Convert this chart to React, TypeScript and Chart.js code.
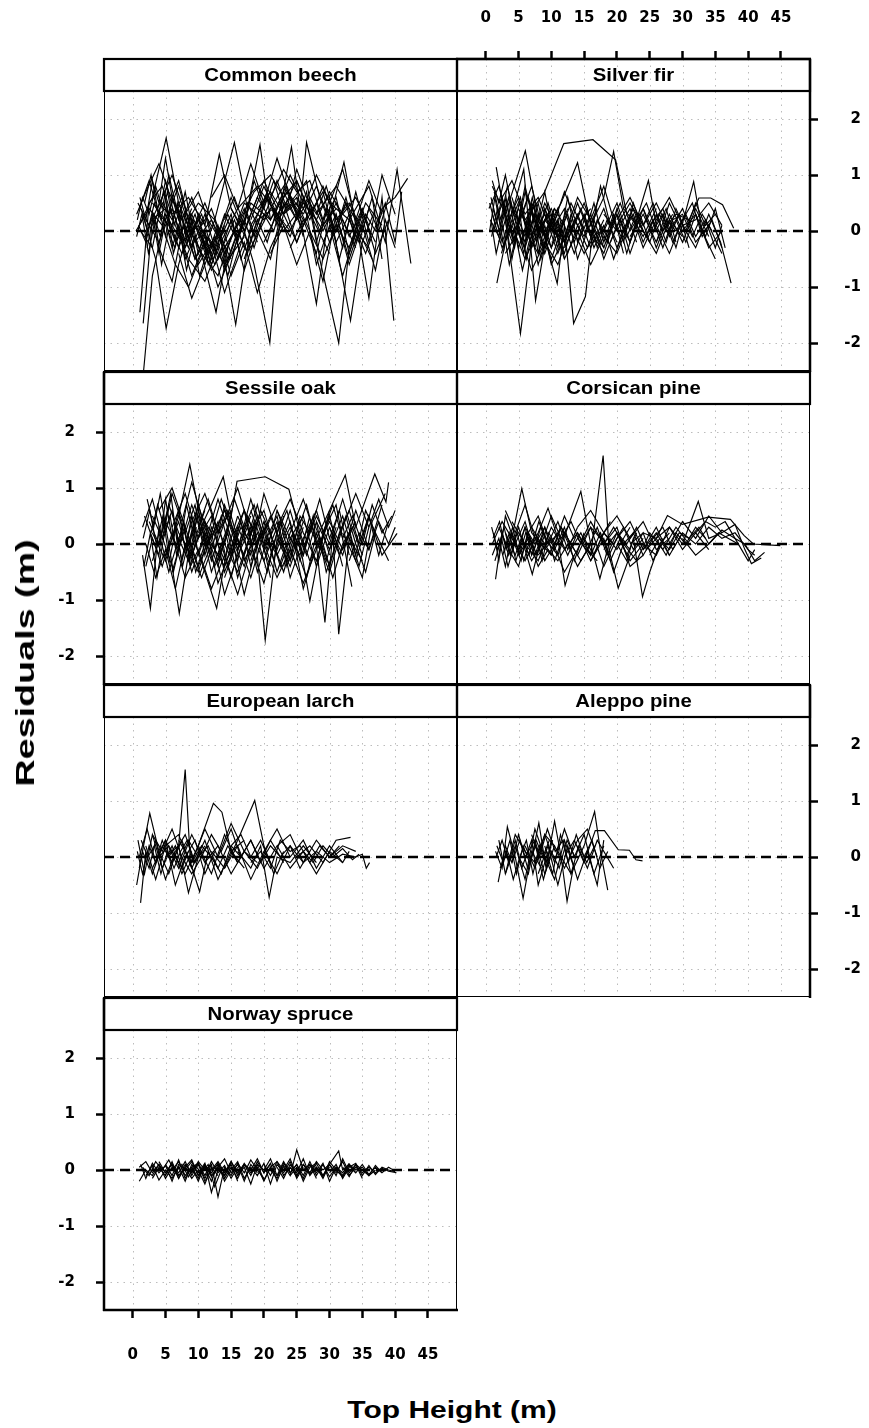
import React, { useEffect, useRef } from "react";
import { Chart, registerables } from "chart.js";

Chart.register(...registerables);

// ---------------- data ----------------
const X_TICKS = [0, 5, 10, 15, 20, 25, 30, 35, 40, 45];
const Y_TICKS = [-2, -1, 0, 1, 2];
const X_RANGE = [-4.375, 49.43];
const Y_RANGE = [-2.5, 2.5];
const ZERO_LEVEL = 0;

const PANEL_TITLES = [
  "Common beech",
  "Silver fir",
  "Sessile oak",
  "Corsican pine",
  "European larch",
  "Aleppo pine",
  "Norway spruce",
];
const X_TITLE = "Top Height (m)";
const Y_TITLE = "Residuals (m)";

// each line: flat list of (top height, residual) pairs
const beechLines: number[][] = [
  [1.5, -2.7, 3.0, -0.8, 5.0, 0.3, 7.5, -0.2, 10, 0.1, 13, -0.4],
  [1.0, 0.1, 3.0, 0.6, 5.1, 1.66, 7.0, 0.5, 9.5, -0.2, 12, 0.2, 15, -0.5],
  [1.5, 0.3, 3.5, -0.5, 5.1, -1.74, 7, -0.6, 9, 0.2, 11.5, -0.3],
  [1.1, -1.45, 2.5, 0.5, 4.5, 0.8, 6.5, 0.1, 8.5, -0.5, 11, -0.9, 13, -0.3, 16, 0.4, 19, 0.8, 22, 0.3],
  [1.6, -1.65, 3, 0.2, 5, 0.4, 7, -0.3, 9, 0.3, 12, -0.6, 14, 0.1],
  [8, 0.2, 10.5, -0.4, 12.7, -1.45, 14.5, -0.3, 17, 0.5, 20, 0.2, 23, 0.8, 26, 0.3],
  [11, 0.3, 13.5, -0.2, 15.7, -1.67, 18, 0.1, 20.5, 0.6, 23, 0.0, 25.5, 0.4],
  [14, -0.3, 16.5, 0.2, 18.5, -0.6, 20.9, -2.0, 22.5, 0.3, 25, 0.9, 27.5, 0.2, 30, -0.4],
  [24, 0.5, 26.5, 0.9, 28.5, -0.5, 31.4, -2.0, 33, -0.3, 35.5, 0.5, 38, 0.1],
  [22, 0.2, 25, 0.6, 28, -1.3, 30, 0.4, 33.2, -1.6, 35, -0.2, 37, 0.4],
  [28, 0.3, 31, 0.8, 34, 0.2, 36, -1.2, 38, 0.6, 39.8, -1.6],
  [30, 0.5, 33, 0.2, 36, 0.8, 38.5, -0.2, 40.3, 1.1, 42.4, -0.58],
  [33, 0.3, 35.5, -0.4, 38, 0.4, 40, 0.6, 41.9, 0.94],
  [10, 0.5, 12.5, 0.2, 15.5, 1.58, 17.5, 0.4, 19.4, 1.54, 21, 0.2, 23.5, 0.7, 26, 0.0],
  [18, 0.0, 20.5, 0.7, 22, 0.1, 24.2, 1.5, 25.5, 0.4, 26.5, 1.58, 28.5, 0.6, 30.5, 0.0, 32.5, 0.5],
  [26, 0.3, 28, 0.8, 30, 0.2, 32.2, 1.23, 34, 0.1, 36.5, -0.5],
  [6, 0.3, 8.5, 0.6, 11, 0.1, 13.2, 1.37, 15, 0.4, 18, -0.3, 21, 0.4],
  [0.5, 0.0, 2.5, 0.4, 4.5, 0.1, 6.5, -0.6, 8.5, -1.0, 10.5, -0.4, 13, -0.8, 15, -0.1],
  [0.6, 0.3, 2, 0.7, 4, 1.2, 5.5, 0.7, 7.5, 0.2, 9.5, -0.5, 11.5, -0.1, 14, -0.6, 17, -0.1],
  [1.2, 0.0, 3, -0.3, 5, 0.9, 7, 0.0, 9, -0.8, 11, -0.2, 13, -1.0, 15.5, -0.3, 18, 0.5, 21, 0.2],
  [16, 0.1, 18.5, 0.7, 21, 1.0, 23, 0.6, 25, 0.9, 27, 0.3, 29, 0.7, 31, -0.2, 33, 0.3],
  [17, -0.5, 19, 0.2, 21.5, 0.4, 24, -0.1, 26, 0.6, 28, -0.6, 30, 0.1, 32, -0.8, 34, 0.0, 36, -0.3],
  [19, 0.4, 21, 0.7, 23, 0.3, 25, 0.5, 27, 0.0, 29, -0.9, 31, 0.3, 33, -0.5, 35, 0.2],
  [2, 0.2, 4, -0.2, 6, 0.4, 8, -0.3, 10, 0.2, 12, -0.4, 14, 0.3, 16, -0.2, 18, 0.6],
  [3, 0.5, 5, 0.2, 7, 0.8, 9, 0.0, 11, 0.5, 13, -0.1, 15, 0.6, 17, 0.0, 20, 0.9, 22, 0.4, 24, 1.0, 26, 0.5],
  [7, -0.4, 9, -1.2, 11, -0.6, 13, 0.0, 15, -0.8, 17, -0.2, 19, -1.1, 21, -0.3, 23, 0.2],
  [21, 0.6, 23, 1.1, 25, 0.7, 27, 0.9, 29, 0.2, 31, 0.6, 33, -0.4, 35, 0.3, 37, -0.2],
  [0.8, 0.5, 2.5, 0.1, 4.5, 0.6, 6, 1.0, 8, 0.3, 10, 0.7, 12, 0.0],
  [4, -0.3, 6, -0.9, 8, 0.3, 10, -0.6, 12, -0.2, 14, -1.1, 16, -0.4, 18, 0.3],
  [24, -0.3, 26, 0.2, 28, -0.4, 30, 0.6, 32, -0.3, 34, 0.7, 36, -0.2, 38, 1.0, 40, 0.3],
  [12, 0.6, 14, 1.0, 16, 0.4, 18, 1.2, 20, 0.5, 22, 1.3, 24, 0.6, 26, 0.2],
  [1, 0.4, 2.5, 0.9, 4, 0.3, 5.5, 0.1, 7.5, -0.4, 9.5, 0.1, 12, -0.7, 14.5, -0.2],
  [26, 0.4, 28, 1.0, 30, 0.5, 32, 1.1, 34, 0.2, 36, 0.9, 38, 0.3],
  [9, -0.3, 11, 0.3, 13, -0.5, 15, 0.2, 17, -0.7, 19, 0.0, 21, -0.5, 23, 0.5, 25, -0.2, 27, 0.4],
  [0.7, 0.2, 1.5, 0.6, 2.5, 0.3, 3.5, 0.8, 4.5, 0.4, 5.5, 1.0, 6.5, 0.5, 7.5, 0.0, 9, 0.4],
  [0.9, 0.1, 2, -0.2, 3, 0.3, 4, -0.4, 5, 0.2, 6, -0.3, 7, 0.1, 8, -0.5, 9.5, -0.1, 11, -0.6],
  [1.3, 0.4, 2.3, 0.0, 3.3, 0.5, 4.3, 0.2, 5.3, 0.7, 6.3, 0.1, 7.3, 0.4, 8.3, -0.2, 9.3, 0.2],
  [2.2, -0.3, 3.2, 0.3, 4.2, -0.1, 5.2, 0.5, 6.2, -0.4, 7.2, 0.0, 8.2, -0.7, 9.2, -0.2, 10.2, -0.8, 11.5, -0.3],
  [5, 0.3, 6.5, -0.2, 8, 0.1, 9.5, -0.5, 11, -0.1, 12.5, -0.6, 14, -0.2, 15.5, 0.2, 17, -0.3],
  [8, -0.1, 9.5, 0.3, 11, -0.3, 12.5, 0.2, 14, -0.4, 15.5, 0.0, 17, 0.4, 18.5, -0.1, 20, 0.5],
  [13, -0.2, 14.5, 0.3, 16, -0.1, 17.5, 0.5, 19, 0.1, 20.5, 0.6, 22, 0.2, 23.5, 0.8, 25, 0.3],
  [15, 0.4, 17, 0.0, 19, 0.6, 21, 0.2, 23, 0.7, 25, 0.2, 27, 0.6, 29, 0.1, 31, 0.4],
  [18, 0.2, 20, 0.8, 22, 0.3, 24, 0.6, 26, 0.1, 28, 0.5, 30, -0.2, 32, 0.2, 34, -0.3],
  [20, -0.2, 22, 0.3, 24, 0.0, 26, 0.5, 28, 0.2, 30, 0.7, 32, 0.3, 34, 0.6, 36, 0.1],
  [23, 0.3, 25, -0.2, 27, 0.4, 29, 0.0, 31, 0.5, 33, -0.1, 35, 0.4, 37, -0.4, 39, 0.2],
  [25, 0.6, 27, 0.2, 29, 0.8, 31, 0.2, 33, 0.5, 35, 0.0, 36.5, 0.6, 38, -0.5],
  [29, -0.2, 31, 0.3, 33, -0.6, 35, 0.1, 37, -0.7, 38.5, 0.2, 40, -0.3],
  [3, 0.1, 4.5, 0.5, 6, 0.2, 7.5, 0.6, 9, 0.0, 10.5, 0.3, 12, -0.3, 13.5, 0.1, 15, -0.4],
  [10, 0.0, 11.5, -0.4, 13, 0.1, 14.5, -0.5, 16, 0.0, 17.5, -0.4, 19, 0.2, 20.5, -0.2, 22, 0.4],
  [1.1, 0.6, 2, 0.2, 3, 0.9, 4, 0.5, 5, 1.3, 6, 0.6, 7, 0.9, 8.5, 0.2, 10, 0.5],
  [6, 0.6, 7.5, 0.2, 9, 0.6, 10.5, 0.1, 12, 0.4, 13.5, -0.1, 15, 0.3, 16.5, -0.5, 18, 0.0],
  [21, -0.4, 23, 0.1, 25, -0.6, 27, 0.0, 29, -0.5, 31, 0.1, 33, -0.3, 35, 0.4],
  [0.6, -0.1, 1.4, 0.3, 2.4, -0.4, 3.4, 0.2, 4.4, -0.6, 5.4, 0.0, 6.4, -0.3, 7.4, 0.3, 8.4, -0.1],
  [1.8, 0.5, 2.8, 1.0, 3.8, 0.4, 4.8, 0.7, 5.8, 0.0, 6.8, 0.5, 7.8, -0.2, 8.8, 0.3, 10, -0.3],
  [4, 0.4, 5, -0.1, 6, 0.6, 7, 0.2, 8, 0.7, 9, 0.1, 10, -0.4, 11, 0.0, 12, -0.5, 13, -0.1],
  [11, -0.5, 12.5, -0.1, 14, -0.7, 15.5, -0.2, 17, 0.2, 18.5, -0.3, 20, 0.3, 21.5, 0.0, 23, 0.6],
  [14, 0.2, 15.5, 0.6, 17, 0.1, 18.5, 0.9, 20, 0.4, 21.5, 0.9, 23, 0.3, 24.5, 0.5, 26, -0.1],
  [19, 0.0, 20.5, 0.4, 22, 0.9, 23.5, 0.4, 25, 1.1, 26.5, 0.6, 28, 0.3, 29.5, 0.8, 31, 0.2],
  [22, -0.1, 23.5, 0.5, 25, 0.2, 26.5, 0.7, 28, -0.2, 29.5, 0.4, 31, 0.0, 32.5, 0.6, 34, -0.1],
  [27, 0.5, 28.5, 0.0, 30, 0.3, 31.5, -0.5, 33, 0.2, 34.5, -0.2, 36, 0.4, 37.5, 0.0, 39, 0.6],
  [31, 0.0, 32.5, 0.5, 34, -0.2, 35.5, 0.3, 37, 0.0, 38.5, 0.5, 40, -0.2, 41, 0.7],
  [7, 0.1, 8.5, -0.3, 10, 0.3, 11.5, -0.6, 13, -0.2, 14.5, -0.8, 16, -0.1, 17.5, 0.3, 19, -0.2],
];

const firLines: number[][] = [
  [6, 0.2, 9, 0.7, 11.9, 1.56, 16.35, 1.63, 19.8, 1.27, 21.5, 0.3, 23, -0.2],
  [1, 0.8, 3, 0.3, 6.04, 1.43, 8, 0.2, 10, -0.3, 12.5, 0.4],
  [1.6, 1.14, 3, 0.2, 5.3, -1.83, 7, -0.2, 9, 0.5, 11, 0.0],
  [0.8, 0.6, 2.5, -0.2, 4, 0.3, 5.8, 1.1, 7.6, -1.24, 9.5, 0.1, 12, -0.2],
  [8, 0.3, 10.9, -0.94, 12, 0.1, 13.4, -1.65, 15.2, -1.17, 16.5, 0.2, 18, -0.3],
  [9, 0.0, 11.5, 0.5, 14, 1.22, 16, 0.1, 18, 0.6, 19.5, 1.42, 21, 0.4, 23, 0.1],
  [18, 0.0, 20, 0.5, 22, -0.2, 24.8, 0.9, 26, 0.1, 28, -0.4, 30, 0.2],
  [25, 0.1, 27, 0.4, 29, -0.3, 31.7, 0.88, 33, 0.0, 35, -0.5],
  [27, 0.0, 29, 0.3, 31, 0.2, 32.5, 0.59, 34.3, 0.59, 36.1, 0.47, 37.8, 0.05],
  [30, 0.1, 32, -0.3, 34, 0.3, 35.8, -0.2, 37.4, -0.93],
  [1.7, -0.93, 3, -0.2, 5, 0.4, 7, -0.1, 9, 0.3, 11, -0.4, 13, 0.2],
  [0.5, 0.4, 2, 0.8, 3.5, 0.2, 5, 0.6, 7, -0.3, 9, 0.2, 11, -0.1, 13, 0.5, 15, 0.0],
  [1, 0.3, 2.5, -0.3, 4, 0.1, 6, -0.5, 8, 0.0, 10, 0.4, 12, -0.2, 14, 0.3, 16, -0.3, 18, 0.2],
  [2, 0.5, 4, 0.9, 6, 0.3, 8, 0.6, 10, 0.0, 12, 0.7, 14, 0.1, 16, 0.4],
  [3, -0.4, 5, 0.0, 7, -0.7, 9, -0.2, 11, -0.6, 13, 0.1, 15, -0.4, 17, 0.0],
  [10, 0.3, 12, -0.2, 14, 0.5, 16, -0.1, 18, 0.4, 20, -0.3, 22, 0.3, 24, -0.1, 26, 0.4],
  [14, -0.2, 16, 0.3, 18, -0.5, 20, 0.1, 22, 0.5, 24, 0.0, 26, -0.4, 28, 0.2, 30, -0.1],
  [20, 0.2, 22, 0.6, 24, 0.1, 26, 0.5, 28, 0.0, 30, 0.4, 32, -0.2, 34, 0.1, 36, -0.4],
  [16, 0.0, 18, -0.4, 20, 0.3, 22, -0.2, 24, 0.4, 26, -0.3, 28, 0.3, 30, -0.2, 32, 0.4, 34, -0.1],
  [1.2, 0.0, 2.5, 0.5, 4, -0.1, 5.5, 0.3, 7, 0.8, 8.5, 0.1, 10, -0.5, 11.5, 0.0],
  [4, 0.2, 6, -0.3, 8, 0.5, 10, -0.6, 12, -0.1, 14, 0.6, 16, 0.2, 18, 0.8, 20, 0.0],
  [22, -0.1, 24, 0.3, 26, -0.2, 28, 0.5, 30, 0.0, 32, 0.3, 34, -0.3, 36, 0.0],
  [0.7, 0.2, 2, -0.1, 3.5, 0.6, 5, -0.3, 6.5, 0.2, 8, -0.6, 9.5, 0.0, 11, 0.3],
  [6, 0.0, 8, -0.4, 10, 0.2, 12, -0.5, 14, 0.0, 16, -0.6, 18, -0.1, 20, -0.4, 22, 0.2],
  [18, 0.3, 20, 0.0, 22, 0.4, 24, -0.3, 26, 0.2, 28, 0.6, 30, 0.1, 32, 0.2, 34, 0.5, 36, 0.1],
  [0.6, 0.5, 1.5, 0.1, 2.5, 0.6, 3.5, 0.0, 4.5, 0.4, 5.5, -0.2, 6.5, 0.3, 7.5, -0.3, 8.5, 0.1],
  [0.9, -0.1, 1.8, 0.4, 2.8, -0.3, 3.8, 0.5, 4.8, 0.1, 5.8, -0.4, 6.8, 0.2, 7.8, -0.2, 9, 0.4, 10, 0.0],
  [1.3, 0.7, 2.3, 0.2, 3.3, 0.8, 4.3, 0.3, 5.3, 0.6, 6.3, 0.0, 7.3, 0.5, 8.3, -0.1, 9.3, 0.3],
  [2, -0.2, 3, 0.2, 4, -0.5, 5, 0.1, 6, -0.2, 7, 0.4, 8, -0.4, 9, 0.1, 10, -0.3, 11, 0.2, 12, -0.5],
  [5, 0.1, 6.5, 0.6, 8, 0.0, 9.5, 0.5, 11, -0.1, 12.5, 0.3, 14, -0.5, 15.5, 0.0, 17, 0.4],
  [8, -0.1, 9.5, 0.3, 11, -0.3, 12.5, 0.6, 14, -0.2, 15.5, 0.4, 17, -0.3, 18.5, 0.2, 20, -0.2],
  [11, 0.2, 12.5, -0.4, 14, 0.1, 15.5, -0.3, 17, 0.2, 18.5, -0.2, 20, 0.4, 21.5, -0.1, 23, 0.3],
  [13, 0.0, 14.5, 0.4, 16, -0.1, 17.5, 0.8, 19, 0.1, 20.5, 0.5, 22, 0.0, 23.5, 0.3, 25, -0.2],
  [19, -0.2, 20.5, 0.2, 22, -0.4, 23.5, 0.1, 25, -0.2, 26.5, 0.3, 28, -0.1, 29.5, 0.3, 31, -0.3],
  [23, 0.2, 24.5, -0.1, 26, 0.3, 27.5, -0.2, 29, 0.4, 30.5, 0.0, 32, 0.5, 33.5, 0.1, 35, 0.3],
  [26, -0.2, 27.5, 0.2, 29, 0.0, 30.5, 0.3, 32, -0.1, 33.5, 0.2, 35, -0.3, 36, 0.1],
  [3, 0.3, 4.5, -0.2, 6, 0.7, 7.5, 0.2, 9, -0.1, 10.5, 0.4, 12, 0.1, 13.5, -0.4, 15, 0.1],
  [0.8, 0.2, 1.6, -0.4, 2.6, 0.1, 3.6, -0.6, 4.6, -0.1, 5.6, -0.7, 6.6, -0.2, 7.6, 0.1, 9, -0.4],
  [15, 0.3, 16.5, -0.2, 18, 0.1, 19.5, -0.5, 21, 0.0, 22.5, 0.4, 24, 0.1, 25.5, 0.5, 27, 0.0, 28.5, 0.3],
  [1, 0.9, 2, 0.5, 3, 1.0, 4, 0.4, 5, 0.2, 6, 0.8, 7, 0.3, 8, 0.0],
  [29, 0.2, 30.5, -0.2, 32, 0.3, 33.5, -0.1, 35, 0.4, 36.5, -0.3],
  [0.6, 0.0, 1.4, 0.6, 2.2, 0.1, 3.2, 0.5, 4.2, -0.2, 5.2, 0.3, 6.2, -0.5, 7.2, 0.0, 8.2, 0.3],
  [1.1, 0.4, 2.1, 0.0, 3.1, 0.6, 4.1, -0.1, 5.1, 0.5, 6.1, 0.1, 7.1, 0.6, 8.1, 0.0, 9.1, -0.3, 10.1, 0.2],
  [2.4, -0.4, 3.4, 0.0, 4.4, -0.3, 5.4, 0.4, 6.4, -0.1, 7.4, 0.3, 8.4, -0.5, 9.4, -0.1, 10.4, 0.4],
  [6, -0.2, 7.5, 0.3, 9, -0.4, 10.5, 0.1, 12, 0.4, 13.5, -0.2, 15, 0.3, 16.5, -0.3, 18, 0.1],
  [9, 0.4, 10.5, 0.0, 12, -0.4, 13.5, 0.2, 15, -0.1, 16.5, 0.5, 18, -0.2, 19.5, 0.3, 21, -0.4],
  [12, -0.3, 13.5, 0.1, 15, 0.5, 16.5, 0.0, 18, -0.3, 19.5, 0.2, 21, -0.2, 22.5, 0.5, 24, 0.0],
  [17, 0.2, 18.5, -0.1, 20, 0.3, 21.5, -0.4, 23, 0.2, 24.5, 0.5, 26, 0.0, 27.5, 0.4, 29, -0.2],
  [21, 0.0, 22.5, 0.3, 24, -0.2, 25.5, 0.2, 27, -0.3, 28.5, 0.2, 30, 0.3, 31.5, -0.1, 33, 0.3, 34.5, 0.0],
  [24, 0.4, 25.5, 0.0, 27, 0.3, 28.5, -0.2, 30, 0.2, 31.5, 0.5, 33, -0.1, 34.5, 0.2, 36, -0.3],
  [4, 0.6, 5, 0.2, 6, -0.1, 7, 0.5, 8, 0.2, 9, 0.7, 10, 0.1, 11, 0.4, 12, -0.2, 13, 0.3],
];

const oakLines: number[][] = [
  [3, 0.2, 5, -0.3, 7, 0.5, 8.7, 1.42, 10.5, 0.3, 12.5, -0.4, 14.5, 0.2],
  [10, 0.2, 12, 0.7, 13.8, 1.2, 15, 0.5, 15.9, 1.12, 20.2, 1.2, 23.8, 0.98, 25.5, 0.2, 27, -0.3],
  [28, 0.1, 30, 0.6, 32.4, 1.23, 34, 0.3, 36.9, 1.25, 38.6, 0.75, 39, 1.1],
  [32, 0.2, 34, -0.3, 36, 0.5, 38, -0.2, 40.3, 0.19],
  [15, 0.3, 17, -0.2, 18.5, 0.4, 20.2, -1.72, 22, 0.1, 24, -0.4, 26, 0.3],
  [24, 0.3, 26, -0.2, 27.5, 0.5, 29.3, -1.4, 30.5, 0.2, 31.4, -1.61, 33, 0.1, 35, -0.3],
  [1.5, -0.2, 2.7, -1.15, 4, 0.3, 6, -0.4, 7.1, -1.24, 9, 0.2, 11, -0.5, 12.8, -1.15, 14.5, 0.0],
  [20, 0.4, 22, -0.1, 24, 0.6, 25.5, 0.0, 27, -1.02, 29, 0.2, 31, 0.7, 33.4, -0.76],
  [1.5, 0.3, 3, 0.8, 4.5, 0.1, 6, 0.6, 7.5, -0.3, 9, 0.4, 11, 0.9, 13, 0.2, 15, 0.6],
  [2, 0.0, 3.5, -0.6, 5, -0.1, 6.5, -0.8, 8, 0.0, 10, -0.5, 12, 0.3, 14, -0.3, 16, 0.5],
  [2.5, 0.4, 4, 0.0, 5.5, 0.7, 7, 0.2, 9, -0.2, 11, 0.4, 13, -0.7, 15, -0.1, 17, 0.6, 19, 0.1],
  [6, 0.3, 8, 0.9, 10, 0.1, 12, 0.5, 14, -0.5, 16, 0.1, 18, -0.6, 20, 0.2, 22, 0.7],
  [12, 0.1, 14, 0.6, 16, -0.1, 18, 0.8, 20, 0.0, 22, 0.5, 24, -0.6, 26, 0.1, 28, 0.6, 30, -0.2],
  [18, -0.3, 20, 0.4, 22, -0.5, 24, 0.2, 26, 0.8, 28, 0.1, 30, -0.5, 32, 0.3, 34, 0.9, 36, 0.3],
  [22, 0.6, 24, 0.1, 26, 0.5, 28, -0.4, 30, 0.3, 32, -0.2, 34, 0.6, 36, -0.1, 38, 0.7],
  [26, -0.1, 28, 0.5, 30, 0.0, 32, 0.8, 34, 0.0, 35.5, -0.5, 37, 0.2, 39, -0.3],
  [4, 0.6, 6, 1.0, 8, 0.3, 10, -0.4, 12, 0.2, 14, -0.9, 16, -0.2, 18, 0.3],
  [8, -0.2, 10, 0.5, 12, -0.3, 14, 0.4, 16, 1.0, 18, 0.2, 20, 0.6, 22, -0.2, 24, 0.3],
  [1.8, 0.5, 3, 0.1, 4.5, -0.4, 6, 0.2, 8, -0.6, 10, -0.1, 12, -0.8, 14, -0.2, 16, -0.9, 18, -0.1],
  [14, 0.0, 16, -0.5, 18, 0.2, 20, -0.3, 22, 0.3, 24, 0.8, 26, 0.2, 28, -0.3, 30, 0.5, 32, -0.4],
  [28, 0.4, 30, -0.1, 32, 0.5, 34, -0.3, 35, -0.6, 36.5, 0.4, 38.5, 0.9],
  [3, -0.3, 5, 0.4, 7, -0.1, 9, 0.7, 11, 0.0, 13, 0.8, 15, 0.1, 17, -0.4, 19, 0.4],
  [10, -0.6, 12, 0.0, 14, -0.4, 16, 0.3, 18, -0.2, 20, 0.9, 22, 0.2, 24, -0.3, 26, 0.4],
  [20, 0.0, 22, -0.6, 24, -0.1, 26, -0.7, 28, -0.1, 30, 0.4, 32, -0.1, 34, 0.4],
  [5, -0.2, 7, 0.4, 9, -0.5, 11, 0.2, 13, -0.2, 15, 0.5, 17, -0.3, 19, 0.2, 21, -0.4],
  [1.6, 0.1, 2.6, 0.6, 3.6, 0.0, 4.6, 0.5, 5.6, -0.3, 6.6, 0.3, 7.6, -0.4, 8.6, 0.1, 9.6, -0.5, 11, 0.0],
  [2, -0.4, 3, 0.1, 4, -0.2, 5, 0.8, 6, 0.1, 7, 0.6, 8, -0.1, 9, 0.5, 10, -0.2, 11.5, 0.3],
  [4, 0.2, 5.5, -0.5, 7, 0.1, 8.5, -0.3, 10, 0.6, 11.5, 0.0, 13, 0.4, 14.5, -0.4, 16, 0.2],
  [7, 0.5, 8.5, 0.0, 10, 0.7, 11.5, 0.1, 13, -0.4, 14.5, 0.3, 16, -0.3, 17.5, 0.5, 19, 0.0],
  [9, -0.1, 10.5, -0.6, 12, -0.1, 13.5, 0.5, 15, -0.2, 16.5, 0.4, 18, -0.4, 19.5, 0.2, 21, -0.6],
  [11, 0.4, 12.5, -0.1, 14, 0.7, 15.5, 0.2, 17, 0.6, 18.5, -0.2, 20, 0.3, 21.5, -0.3, 23, 0.5],
  [13, -0.3, 14.5, 0.2, 16, -0.6, 17.5, 0.0, 19, 0.5, 20.5, -0.1, 22, 0.6, 23.5, 0.1, 25, -0.4],
  [16, 0.5, 17.5, 0.1, 19, 0.7, 20.5, 0.0, 22, 0.4, 23.5, -0.4, 25, 0.2, 26.5, 0.7, 28, 0.0],
  [19, 0.1, 20.5, -0.5, 22, 0.2, 23.5, 0.6, 25, -0.1, 26.5, -0.6, 28, 0.2, 29.5, -0.3, 31, 0.3],
  [21, -0.2, 22.5, 0.4, 24, -0.3, 25.5, 0.5, 27, 0.2, 28.5, 0.8, 30, 0.1, 31.5, 0.6, 33, -0.2],
  [25, 0.3, 26.5, -0.2, 28, 0.4, 29.5, -0.5, 31, 0.0, 32.5, 0.5, 34, -0.2, 35.5, 0.6, 37, 0.2],
  [27, -0.3, 28.5, 0.1, 30, -0.4, 31.5, 0.2, 33, 0.6, 34.5, 0.0, 36, 0.5, 37.5, -0.2, 39, 0.4],
  [30, 0.3, 31.5, -0.2, 33, 0.2, 34.5, -0.4, 36, 0.3, 37.5, 0.8, 39, 0.3, 40, 0.6],
  [3, 0.5, 4.5, 0.1, 6, 0.9, 7.5, 0.4, 9, 1.1, 10.5, 0.5, 12, 0.2, 13.5, 0.8, 15, 0.3],
  [14, -0.6, 15.5, -0.1, 17, -0.9, 18.5, -0.2, 20, -0.7, 21.5, 0.0, 23, -0.5, 24.5, 0.1, 26, -0.8, 27.5, -0.2],
  [2.2, 0.8, 3.2, 0.3, 4.2, 0.9, 5.2, 0.2, 6.2, -0.5, 7.2, 0.0, 8.2, 0.7, 9.2, 0.2, 10.2, 0.9],
  [1.7, -0.4, 2.7, 0.2, 3.7, -0.6, 4.7, 0.1, 5.7, 0.5, 6.7, -0.2, 7.7, 0.4, 8.7, -0.3, 9.7, 0.3],
  [2.8, 0.2, 3.8, 0.7, 4.8, 0.3, 5.8, 0.9, 6.8, 0.0, 7.8, 0.4, 8.8, -0.4, 9.8, 0.2, 11, 0.6],
  [6, -0.5, 7.5, 0.1, 9, -0.2, 10.5, 0.3, 12, -0.5, 13.5, 0.0, 15, -0.6, 16.5, 0.1, 18, 0.5],
  [10, 0.3, 11.5, 0.8, 13, 0.2, 14.5, 0.6, 16, -0.1, 17.5, 0.3, 19, -0.5, 20.5, 0.1, 22, -0.2],
  [15, -0.2, 16.5, 0.3, 18, 0.0, 19.5, 0.6, 21, 0.2, 22.5, -0.4, 24, 0.1, 25.5, -0.2, 27, 0.5],
  [18, 0.6, 19.5, 0.1, 21, 0.5, 22.5, 0.0, 24, 0.4, 25.5, -0.3, 27, 0.3, 28.5, -0.1, 30, 0.6],
  [23, -0.4, 24.5, 0.2, 26, -0.2, 27.5, 0.4, 29, 0.0, 30.5, -0.6, 32, 0.0, 33.5, 0.3, 35, -0.2],
  [29, 0.2, 30.5, 0.7, 32, 0.1, 33.5, 0.5, 35, 0.0, 36.5, 0.7, 38, 0.2, 39.5, 0.5],
  [33, -0.3, 34.5, 0.2, 36, -0.1, 37.5, 0.4, 39, 0.0, 40, 0.3],
  [8, 0.2, 9.5, 0.7, 11, -0.2, 12.5, 0.4, 14, 0.0, 15.5, 0.8, 17, 0.3, 18.5, 0.7, 20, 0.1],
];

const corsicanLines: number[][] = [
  [14, 0.1, 16, -0.2, 17.9, 1.58, 18.8, -0.1, 20.2, -0.79, 22, -0.2, 24, 0.1],
  [1, 0.0, 2.5, 0.4, 4, 0.1, 5.5, 0.99, 7, 0.2, 9, -0.1, 11, 0.2],
  [9, 0.1, 11, -0.2, 12.5, 0.3, 14.5, 0.94, 16, 0.0, 17.4, -0.62, 19, 0.1],
  [4, 0.1, 6, -0.3, 8, 0.2, 9.5, 0.64, 11, 0.1, 12.1, -0.74, 13.5, -0.2],
  [26, 0.1, 28, 0.3, 30, 0.0, 32.4, 0.76, 34, 0.1, 36, 0.2],
  [22, 0.0, 24, 0.2, 26, 0.1, 27.7, 0.51, 30, 0.35, 33.9, 0.48, 37.3, 0.44, 39.4, 0.15, 40.8, 0.0, 44.9, -0.03],
  [20, 0.0, 21.5, -0.3, 22.5, 0.1, 23.9, -0.94, 25, -0.5, 26.5, 0.0, 28, 0.2],
  [1.5, -0.63, 2.5, 0.2, 3.5, -0.2, 5, 0.3, 6, -0.1, 7.1, -0.54, 8.5, 0.1, 10, -0.2],
  [1.2, 0.2, 2, -0.3, 3, 0.5, 4.5, 0.0, 6, 0.4, 7.5, -0.2, 9, 0.3, 10.5, -0.3, 12, 0.2],
  [2, 0.3, 3.5, -0.1, 5, -0.4, 6.5, 0.2, 8, 0.5, 9.5, 0.0, 11, 0.4, 12.5, -0.1, 14, 0.3],
  [6, 0.0, 8, -0.3, 10, 0.3, 12, -0.1, 14, 0.2, 16, -0.3, 18, 0.2, 20, -0.1, 22, 0.3],
  [12, 0.2, 14, -0.2, 16, 0.3, 18, -0.4, 20, 0.1, 22, 0.4, 24, -0.1, 26, 0.2, 28, -0.2],
  [18, -0.1, 20, 0.2, 22, -0.3, 24, 0.0, 26, -0.2, 28, 0.3, 30, -0.1, 32, 0.2, 34, -0.1],
  [24, -0.1, 26, 0.3, 28, -0.2, 30, 0.2, 32, 0.0, 34, 0.3, 36, 0.1, 38, 0.2, 40, -0.1, 41, -0.2],
  [28, 0.0, 30, 0.4, 32, 0.1, 34, 0.5, 36, 0.2, 38, 0.35, 39.5, -0.1, 40.5, -0.35, 42, -0.25],
  [3, 0.6, 4.5, 0.2, 6, 0.7, 7.5, 0.1, 9, -0.3, 10.5, 0.0, 12, 0.5, 13.5, 0.1],
  [8, -0.2, 10, 0.1, 12, -0.5, 14, -0.1, 16, 0.4, 18, 0.0, 20, 0.3, 22, -0.4, 24, -0.2],
  [1, -0.2, 2, 0.1, 3, -0.4, 4, 0.2, 5, -0.1, 6, 0.3, 7, -0.2, 8, 0.1, 9, -0.3],
  [14, 0.3, 16, 0.6, 18, 0.2, 20, 0.5, 22, 0.1, 24, 0.4, 26, -0.1, 28, 0.1],
  [30, 0.1, 32, -0.2, 34, 0.0, 36, 0.25, 38, 0.1, 39.5, 0.0, 41, -0.3, 42.5, -0.15],
  [16, -0.3, 18, 0.1, 19.5, -0.5, 21, 0.0, 23, -0.3, 25, 0.2, 27, -0.1, 29, 0.3, 31, 0.0],
  [0.9, 0.3, 1.8, -0.1, 2.8, 0.3, 3.8, -0.2, 4.8, 0.2, 5.8, -0.3, 6.8, 0.1, 7.8, -0.2, 8.8, 0.2],
  [1.4, -0.3, 2.4, 0.1, 3.4, -0.4, 4.4, 0.0, 5.4, -0.3, 6.4, 0.2, 7.4, -0.1, 8.4, 0.3, 9.4, 0.0],
  [3, 0.2, 4.5, -0.2, 6, 0.3, 7.5, 0.0, 9, 0.3, 10.5, -0.1, 12, 0.3, 13.5, -0.3, 15, 0.2],
  [10, 0.0, 11.5, 0.3, 13, -0.1, 14.5, 0.2, 16, -0.2, 17.5, 0.2, 19, -0.3, 20.5, 0.1, 22, -0.1],
  [15, 0.1, 16.5, -0.2, 18, 0.2, 19.5, 0.0, 21, 0.3, 22.5, -0.1, 24, 0.2, 25.5, -0.3, 27, 0.1],
  [20, 0.2, 21.5, 0.0, 23, 0.3, 24.5, -0.1, 26, 0.1, 27.5, -0.2, 29, 0.2, 30.5, 0.0, 32, 0.3, 33.5, 0.1],
  [25, -0.2, 26.5, 0.1, 28, -0.1, 29.5, 0.2, 31, 0.1, 32.5, 0.3, 34, 0.0, 35.5, 0.2, 37, 0.1, 38.5, 0.0],
  [5, -0.2, 6.5, 0.1, 8, -0.4, 9.5, -0.1, 11, -0.3, 12.5, 0.0, 14, -0.4, 15.5, -0.1, 17, -0.3],
  [7, 0.3, 8.5, 0.0, 10, 0.5, 11.5, 0.1, 13, 0.4, 14.5, 0.0, 16, 0.3, 17.5, 0.1, 19, 0.4],
  [32, 0.2, 33.5, 0.4, 35, 0.3, 36.5, 0.4, 38, 0.1, 39, -0.1, 40, -0.3, 41, -0.1],
  [1.1, 0.1, 2.1, 0.4, 3.1, -0.1, 4.1, 0.3, 5.1, -0.2, 6.1, 0.2, 7.1, 0.0, 8.1, 0.4, 9.1, 0.1],
  [2.6, -0.2, 3.6, 0.2, 4.6, -0.3, 5.6, 0.1, 6.6, -0.2, 7.6, 0.2, 8.6, -0.3, 9.6, 0.2, 10.6, 0.0],
  [11, 0.2, 12.5, -0.2, 14, 0.2, 15.5, -0.1, 17, 0.3, 18.5, -0.2, 20, 0.2, 21.5, -0.2, 23, 0.2],
  [18, 0.0, 19.5, 0.3, 21, 0.0, 22.5, 0.2, 24, -0.2, 25.5, 0.1, 27, 0.3, 28.5, -0.1, 30, 0.2],
  [4, 0.4, 5.5, 0.1, 7, -0.3, 8.5, 0.0, 10, -0.2, 11.5, 0.3, 13, 0.0, 14.5, -0.3, 16, 0.0],
];

const larchLines: number[][] = [
  [5, 0.0, 7, 0.2, 8.0, 1.56, 8.8, -0.1, 10.2, -0.62, 11.5, 0.1, 13, -0.2],
  [12, 0.1, 14, -0.2, 16, 0.3, 18.6, 1.01, 20, 0.2, 21.5, -0.3, 23, 0.1],
  [6, 0.1, 8, -0.3, 10, 0.2, 12.3, 0.96, 13.6, 0.8, 15, 0.1, 17, -0.2],
  [1, -0.2, 2.6, 0.78, 4, 0.1, 5.5, -0.3, 7, 0.2, 8.5, -0.64, 10, 0.0],
  [25, 0.0, 27, 0.2, 29, -0.1, 31, 0.3, 33.2, 0.35],
  [28, 0.1, 30, -0.1, 32, 0.05, 34, 0.0, 35, 0.05, 35.6, -0.2, 36.1, -0.1],
  [1.2, -0.82, 2, 0.1, 3, -0.3, 4.5, 0.2, 6, -0.1, 7.5, 0.3, 9, -0.2],
  [16, 0.1, 18, -0.2, 19.5, 0.2, 20.8, -0.72, 22, 0.0, 24, -0.1, 26, 0.2, 28, -0.1],
  [0.8, 0.3, 1.8, -0.3, 3, 0.4, 4, 0.0, 5, -0.4, 6.5, 0.1, 8, 0.4, 9.5, -0.1, 11, 0.2],
  [1, 0.0, 2.2, 0.5, 3.5, -0.1, 5, 0.3, 6.5, -0.5, 8, 0.0, 9.5, 0.3, 11, -0.3, 12.5, 0.1],
  [3, -0.2, 5, 0.3, 7, -0.2, 9, 0.4, 11, -0.1, 13, 0.2, 15, -0.3, 17, 0.1, 19, -0.1],
  [10, 0.2, 12, -0.3, 14, 0.4, 16, -0.1, 18, 0.3, 20, -0.2, 22, 0.2, 24, 0.4, 26, -0.1, 28, 0.1],
  [14, -0.2, 16, 0.2, 18, -0.4, 20, 0.1, 22, 0.5, 24, 0.0, 26, 0.3, 28, -0.2, 30, 0.2, 32, -0.1],
  [20, 0.1, 22, -0.3, 24, 0.2, 26, -0.1, 28, 0.3, 30, 0.0, 32, 0.2, 34, 0.1],
  [2, 0.2, 3.5, -0.4, 5, 0.2, 7, 0.4, 9, -0.2, 11, 0.3, 13, -0.4, 15, 0.1, 17, 0.3],
  [7, 0.3, 9, -0.1, 11, 0.5, 13, 0.0, 15, 0.6, 17, 0.1, 19, -0.2, 21, 0.3, 23, -0.1],
  [0.6, -0.5, 1.5, 0.1, 2.5, -0.2, 3.5, 0.3, 4.5, -0.2, 6, 0.2, 7.5, -0.3, 9, 0.1],
  [22, 0.2, 24, -0.2, 26, 0.1, 28, -0.3, 30, 0.1, 32, -0.1, 33, 0.1],
  [0.7, 0.1, 1.5, -0.3, 2.5, 0.2, 3.5, -0.1, 4.5, 0.3, 5.5, 0.0, 6.5, 0.2, 7.5, -0.2, 8.5, 0.1],
  [1.3, 0.3, 2.3, 0.0, 3.3, 0.2, 4.3, -0.3, 5.3, 0.1, 6.3, -0.2, 7.3, 0.1, 8.3, 0.3, 9.3, -0.1, 10.3, 0.1],
  [4, 0.0, 5.5, 0.2, 7, -0.1, 8.5, 0.3, 10, 0.0, 11.5, 0.2, 13, -0.2, 14.5, 0.2, 16, -0.1],
  [9, -0.1, 10.5, 0.2, 12, 0.0, 13.5, -0.3, 15, 0.2, 16.5, 0.4, 18, 0.0, 19.5, 0.3, 21, -0.1],
  [15, 0.2, 16.5, 0.0, 18, 0.3, 19.5, -0.1, 21, 0.2, 22.5, 0.0, 24, 0.2, 25.5, -0.2, 27, 0.1],
  [18, -0.1, 19.5, 0.1, 21, -0.2, 22.5, 0.3, 24, 0.1, 25.5, 0.2, 27, -0.1, 28.5, 0.2, 30, 0.0, 31.5, 0.2],
  [3, 0.4, 4.5, 0.1, 6, 0.5, 7.5, 0.0, 9, -0.3, 10.5, 0.0, 12, 0.4, 13.5, 0.1, 15, 0.5, 16.5, 0.0],
  [26, 0.1, 27.5, -0.1, 29, 0.2, 30.5, 0.0, 32, 0.15, 33.5, -0.05, 34.5, 0.05],
];

const aleppoLines: number[][] = [
  [11, 0.1, 13, -0.3, 15, 0.2, 16.6, 0.81, 17.5, 0.1, 18.6, -0.59],
  [5, 0.0, 6.5, -0.3, 8.1, 0.61, 9.2, -0.2, 10.5, 0.64, 11.5, 0.0, 12.4, -0.79, 13.5, -0.1],
  [1.5, 0.1, 2.5, -0.2, 3.3, 0.54, 4.5, 0.0, 5.7, -0.74, 7, 0.1, 8.5, -0.2],
  [12, 0.0, 13.5, 0.3, 15, -0.1, 16.7, 0.47, 18.1, 0.47, 20.2, 0.13, 21.9, 0.12, 22.9, -0.05, 23.9, -0.07],
  [1.9, -0.45, 3, 0.2, 4, -0.1, 5, 0.4, 6, 0.0, 7.5, 0.3, 9, -0.3, 10.5, 0.2],
  [2, 0.3, 3, -0.3, 4.5, 0.2, 6, -0.4, 7.5, 0.5, 9, 0.0, 10.5, -0.4, 12, 0.3, 13.5, -0.2],
  [6, 0.2, 7.5, -0.2, 9, 0.4, 10.5, -0.1, 12, 0.5, 13.5, 0.0, 15, 0.4, 16.5, -0.3, 18, 0.2],
  [1.6, 0.0, 2.5, 0.3, 3.5, -0.1, 4.5, 0.3, 5.5, -0.2, 7, 0.3, 8, -0.5, 9.5, 0.1],
  [8, -0.3, 9.5, 0.2, 11, -0.5, 12.5, 0.2, 14, -0.4, 15.5, 0.1, 17, -0.5, 18, 0.3],
  [3, -0.3, 4.5, 0.4, 6, 0.1, 7.5, -0.1, 9, 0.4, 10.5, 0.2, 12, -0.2, 14, 0.3, 15.5, 0.5, 17, 0.0],
  [14, 0.2, 15.5, -0.2, 17, 0.3, 18.5, 0.0, 19.5, -0.2],
  [1.7, 0.2, 2.7, -0.1, 3.7, 0.3, 4.7, -0.3, 5.7, 0.2, 6.7, -0.1, 7.7, 0.3, 8.7, 0.0, 9.7, 0.3],
  [4, -0.1, 5.2, 0.3, 6.4, -0.2, 7.6, 0.2, 8.8, -0.4, 10, 0.1, 11.2, -0.2, 12.4, 0.3, 13.6, 0.0],
  [9, 0.2, 10.2, -0.3, 11.4, 0.4, 12.6, -0.1, 13.8, 0.4, 15, 0.0, 16.2, 0.3, 17.4, -0.2, 18.6, 0.1],
  [2.2, -0.2, 3.2, 0.1, 4.2, -0.4, 5.2, 0.0, 6.2, 0.3, 7.2, -0.3, 8.2, 0.2, 9.2, -0.1, 10.2, 0.3],
  [7, 0.4, 8.2, 0.0, 9.4, 0.5, 10.6, 0.1, 11.8, 0.3, 13, -0.3, 14.2, 0.2, 15.4, -0.1, 16.6, 0.2],
];

const spruceLines: number[][] = [
  [1, -0.2, 2, 0.0, 3, -0.1, 4, 0.1, 5, -0.05, 6, 0.12, 7, -0.1, 8, 0.05, 9, -0.15, 10, 0.0, 11, -0.25, 12, 0.05, 13, -0.1],
  [1.5, 0.05, 2.5, -0.1, 3.5, 0.15, 4.5, 0.0, 5.5, 0.18, 6.5, -0.05, 7.5, 0.1, 8.5, -0.12, 9.5, 0.08, 10.5, -0.05, 11.5, 0.1, 12.5, -0.3, 13.5, 0.0],
  [2, -0.1, 3, 0.08, 4, -0.18, 5, 0.0, 6, -0.15, 7, 0.06, 8, -0.2, 9, 0.1, 10, -0.05, 11, 0.12, 12, -0.4, 13, 0.0, 14, -0.1, 15, 0.1, 16, -0.2],
  [8, 0.1, 9, -0.05, 10, 0.15, 11, 0.0, 12, 0.1, 13, -0.48, 14, 0.05, 15, -0.1, 16, 0.12, 17, -0.05, 18, 0.18, 19, 0.0, 20, -0.15],
  [10, -0.1, 11, 0.05, 12, -0.2, 13, 0.1, 14, -0.05, 15, 0.15, 16, -0.1, 17, 0.05, 18, -0.25, 19, 0.1, 20, 0.0, 21, 0.2, 22, -0.1, 23, 0.05],
  [15, 0.05, 16, -0.15, 17, 0.1, 18, 0.0, 19, 0.2, 20, -0.05, 21, 0.12, 22, -0.2, 23, 0.08, 24, -0.1, 25, 0.36, 26, 0.0, 27, 0.1, 28, -0.15],
  [18, -0.05, 19, 0.1, 20, -0.18, 21, 0.05, 22, -0.1, 23, 0.15, 24, -0.05, 25, 0.1, 26, -0.2, 27, 0.05, 28, 0.12, 29, -0.1, 30, 0.05],
  [20, 0.1, 21, -0.1, 22, 0.15, 23, 0.0, 24, 0.2, 25, -0.1, 26, 0.1, 27, -0.05, 28, 0.15, 29, 0.0, 30, 0.1, 31.4, 0.34, 32, 0.0, 33, 0.1, 34, -0.05],
  [24, -0.1, 25, 0.05, 26, -0.15, 27, 0.1, 28, -0.05, 29, 0.12, 30, -0.2, 31, 0.05, 32, -0.1, 33, 0.1, 34, 0.0, 35, 0.05, 36, -0.1, 37, 0.0],
  [28, 0.05, 29, -0.1, 30, 0.1, 31, -0.05, 32, 0.15, 33, -0.1, 34, 0.05, 35, -0.05, 36, 0.05, 37, -0.05, 38, 0.03, 39, -0.02, 40.2, -0.05],
  [4, 0.15, 5, -0.05, 6, 0.1, 7, -0.15, 8, 0.05, 9, 0.18, 10, -0.1, 11, 0.08, 12, -0.05, 13, 0.12, 14, -0.15, 15, 0.05, 16, -0.05, 17, 0.1],
  [12, 0.0, 13, 0.1, 14, -0.2, 15, 0.0, 16, 0.15, 17, -0.15, 18, 0.05, 19, -0.1, 20, 0.12, 21, -0.25, 22, 0.1, 23, -0.05, 24, 0.15, 25, -0.15, 26, 0.05],
  [1.2, 0.1, 2, -0.15, 3, 0.12, 4, -0.05, 5, 0.08, 6, -0.2, 7, 0.1, 8, 0.0, 9, 0.15, 10, -0.1, 11, 0.05],
  [30, -0.05, 31, 0.1, 32, -0.15, 33, 0.05, 34, 0.12, 35, -0.1, 36, 0.08, 37, -0.08, 38, 0.05, 39, 0.0, 40, -0.03],
  [22, 0.05, 23, -0.15, 24, 0.1, 25, -0.05, 26, 0.2, 27, -0.1, 28, 0.05, 29, -0.15, 30, 0.1, 31, -0.1, 32, 0.2, 33, -0.05, 34, 0.1, 35, -0.15],
  [6, 0.0, 7, 0.15, 8, -0.1, 9, 0.05, 10, -0.2, 11, 0.1, 12, -0.1, 13, 0.05, 14, 0.2, 15, -0.05, 16, 0.1, 17, -0.2, 18, 0.1, 19, -0.05],
  [1, 0.05, 2, 0.15, 3, -0.05, 4, 0.1, 5, -0.15, 6, 0.05, 7, -0.05, 8, 0.15, 9, -0.1, 10, 0.1, 11, -0.15, 12, 0.1],
  [3, -0.15, 4, 0.05, 5, -0.1, 6, 0.15, 7, -0.15, 8, 0.1, 9, -0.05, 10, 0.12, 11, -0.2, 12, 0.0, 13, 0.15, 14, -0.05, 15, 0.12],
  [9, 0.05, 10, -0.15, 11, 0.1, 12, -0.12, 13, 0.05, 14, -0.1, 15, 0.15, 16, -0.05, 17, 0.1, 18, -0.1, 19, 0.15, 20, -0.05, 21, 0.1],
  [16, -0.1, 17, 0.12, 18, -0.05, 19, 0.05, 20, -0.2, 21, 0.05, 22, 0.15, 23, -0.1, 24, 0.05, 25, -0.12, 26, 0.1, 27, -0.05, 28, 0.1],
  [21, 0.0, 22, -0.15, 23, 0.12, 24, -0.05, 25, 0.1, 26, -0.1, 27, 0.15, 28, -0.1, 29, 0.1, 30, -0.12, 31, 0.05, 32, -0.05, 33, 0.12],
  [26, 0.1, 27, -0.08, 28, 0.05, 29, -0.12, 30, 0.15, 31, 0.0, 32, -0.12, 33, 0.08, 34, -0.05, 35, 0.1, 36, -0.08, 37, 0.05, 38, -0.05],
  [32, 0.05, 33, -0.12, 34, 0.1, 35, 0.0, 36, -0.1, 37, 0.08, 38, -0.05, 39, 0.05, 40, -0.02],
  [5, 0.1, 6, -0.1, 7, 0.18, 8, -0.15, 9, 0.05, 10, 0.12, 11, -0.1, 12, 0.15, 13, -0.05, 14, 0.08, 15, -0.15, 16, 0.05],
];

// ---------------- layout ----------------
const COL_LEFT = [104, 457];
const PW = 353;
const PH = 280;
const SH = 32;
const ROW_TOP = [91, 404, 717, 1030];
const M = 12;
const AX = { left: 64, right: 51, top: 59, bottom: 62 };
const TICK_LEN = 8;
const TICK_FONT = { family: "'DejaVu Sans', sans-serif", weight: "bold" as const, size: 15 };
const GRID_COLOR = "#bcbcbc";

type PanelCfg = {
  title: string;
  lines: number[][];
  col: number;
  row: number;
  axisLeft?: boolean;
  axisRight?: boolean;
  axisTop?: boolean;
  axisBottom?: boolean;
};

const PANELS: PanelCfg[] = [
  { title: PANEL_TITLES[0], lines: beechLines, col: 0, row: 0 },
  { title: PANEL_TITLES[1], lines: firLines, col: 1, row: 0, axisTop: true, axisRight: true },
  { title: PANEL_TITLES[2], lines: oakLines, col: 0, row: 1, axisLeft: true },
  { title: PANEL_TITLES[3], lines: corsicanLines, col: 1, row: 1 },
  { title: PANEL_TITLES[4], lines: larchLines, col: 0, row: 2 },
  { title: PANEL_TITLES[5], lines: aleppoLines, col: 1, row: 2, axisRight: true },
  { title: PANEL_TITLES[6], lines: spruceLines, col: 0, row: 3, axisLeft: true, axisBottom: true },
];

function toPoints(flat: number[]) {
  const pts: { x: number; y: number }[] = [];
  for (let i = 0; i + 1 < flat.length; i += 2) pts.push({ x: flat[i], y: flat[i + 1] });
  return pts;
}

const latticePlugin = {
  id: "lattice",
  beforeDatasetsDraw(chart: any) {
    const { ctx, chartArea, scales } = chart;
    const { left, right, top, bottom } = chartArea;
    ctx.save();
    ctx.strokeStyle = GRID_COLOR;
    ctx.lineWidth = 1;
    ctx.setLineDash([1.5, 5]);
    for (const v of X_TICKS) {
      const px = Math.round(scales.x.getPixelForValue(v)) + 0.5;
      ctx.beginPath();
      ctx.moveTo(px, top);
      ctx.lineTo(px, bottom);
      ctx.stroke();
    }
    for (const v of Y_TICKS) {
      const py = Math.round(scales.y.getPixelForValue(v)) + 0.5;
      ctx.beginPath();
      ctx.moveTo(left, py);
      ctx.lineTo(right, py);
      ctx.stroke();
    }
    ctx.restore();
  },
  afterDraw(chart: any, _args: any, opts: any) {
    const { ctx, chartArea, scales } = chart;
    const { left, right, bottom } = chartArea;
    const pTop = scales.y.getPixelForValue(Y_RANGE[1]);
    const sTop = pTop - SH;
    ctx.save();
    ctx.setLineDash([]);
    ctx.strokeStyle = "#000";
    // panel frame
    ctx.lineWidth = 1;
    ctx.strokeRect(left + 0.5, pTop, right - left - 1, bottom - pTop - 0.5);
    ctx.lineWidth = 2.5;
    ctx.beginPath();
    if (opts.axisLeft) { ctx.moveTo(left, pTop - SH); ctx.lineTo(left, bottom + 1); }
    if (opts.axisRight) { ctx.moveTo(right, pTop - SH); ctx.lineTo(right, bottom + 1); }
    if (opts.axisBottom) { ctx.moveTo(left - 1, bottom); ctx.lineTo(right + 1, bottom); }
    if (opts.axisTop) { ctx.moveTo(left - 1, sTop); ctx.lineTo(right + 1, sTop); }
    ctx.stroke();
    // strip
    ctx.lineWidth = 2.2;
    ctx.strokeRect(left, sTop, right - left, SH);
    ctx.fillStyle = "#000";
    ctx.font = "bold 18px 'Liberation Sans', Arial, sans-serif";
    ctx.textAlign = "center";
    ctx.textBaseline = "middle";
    ctx.translate((left + right) / 2, sTop + SH / 2 + 1);
    ctx.scale(1.13, 1);
    ctx.fillText(opts.title, 0, 0);
    ctx.restore();
  },
};

function Panel({ cfg }: { cfg: PanelCfg }) {
  const ref = useRef<HTMLCanvasElement>(null);
  const stripInside = !!cfg.axisTop;
  const chartTop = ROW_TOP[cfg.row] - (stripInside ? SH : 0);
  const chartH = PH + (stripInside ? SH : 0);
  const padT = M + (cfg.axisTop ? AX.top : SH);
  const padB = M + (cfg.axisBottom ? AX.bottom : 0);
  const padL = M + (cfg.axisLeft ? AX.left : 0);
  const padR = M + (cfg.axisRight ? AX.right : 0);
  const left = COL_LEFT[cfg.col] - padL;
  const top = chartTop - padT;
  const width = PW + padL + padR;
  const height = chartH + padT + padB;
  const yMax = Y_RANGE[1] + (stripInside ? (SH * (Y_RANGE[1] - Y_RANGE[0])) / PH : 0);
  const hasX = !!(cfg.axisTop || cfg.axisBottom);
  const hasY = !!(cfg.axisLeft || cfg.axisRight);

  useEffect(() => {
    if (!ref.current) return;
    const datasets: any[] = [
      {
        data: [
          { x: X_RANGE[0], y: ZERO_LEVEL },
          { x: X_RANGE[1], y: ZERO_LEVEL },
        ],
        borderColor: "#000",
        borderWidth: 2.5,
        borderDash: [10, 6],
        pointRadius: 0,
        fill: false,
      },
      ...cfg.lines.map((l) => ({
        data: toPoints(l),
        borderColor: "#000",
        borderWidth: 1.15,
        pointRadius: 0,
        fill: false,
        tension: 0,
      })),
    ];
    const chart = new Chart(ref.current, {
      type: "line",
      data: { datasets },
      plugins: [latticePlugin as any],
      options: {
        responsive: false,
        animation: false,
        devicePixelRatio: 1,
        events: [],
        layout: {
          padding: { left: M, right: M, top: M + (cfg.axisTop ? 0 : SH), bottom: M },
        },
        plugins: {
          legend: { display: false },
          tooltip: { enabled: false },
          lattice: {
            title: cfg.title,
            axisLeft: !!cfg.axisLeft,
            axisRight: !!cfg.axisRight,
            axisTop: !!cfg.axisTop,
            axisBottom: !!cfg.axisBottom,
          },
        } as any,
        scales: {
          x: {
            type: "linear",
            position: cfg.axisTop ? "top" : "bottom",
            min: X_RANGE[0],
            max: X_RANGE[1],
            afterBuildTicks: (s: any) => {
              s.ticks = X_TICKS.map((v) => ({ value: v }));
            },
            afterFit: (s: any) => {
              s.height = hasX ? (cfg.axisTop ? AX.top : AX.bottom) : 0;
              s.paddingLeft = 0;
              s.paddingRight = 0;
              s.paddingTop = 0;
              s.paddingBottom = 0;
            },
            grid: {
              display: true,
              drawOnChartArea: false,
              drawTicks: hasX,
              tickLength: TICK_LEN,
              tickWidth: 2.5,
              tickColor: "#000",
            },
            border: { display: false },
            ticks: {
              display: hasX,
              autoSkip: false,
              maxRotation: 0,
              minRotation: 0,
              color: "#000",
              font: TICK_FONT,
              padding: cfg.axisTop ? 24 : 28,
              callback: (v: any) => String(v),
            },
          },
          y: {
            type: "linear",
            position: cfg.axisRight ? "right" : "left",
            min: Y_RANGE[0],
            max: yMax,
            afterBuildTicks: (s: any) => {
              s.ticks = Y_TICKS.map((v) => ({ value: v }));
            },
            afterFit: (s: any) => {
              s.width = hasY ? (cfg.axisRight ? AX.right : AX.left) : 0;
              s.paddingLeft = 0;
              s.paddingRight = 0;
              s.paddingTop = 0;
              s.paddingBottom = 0;
            },
            grid: {
              display: true,
              drawOnChartArea: false,
              drawTicks: hasY,
              tickLength: TICK_LEN,
              tickWidth: 2.5,
              tickColor: "#000",
            },
            border: { display: false },
            ticks: {
              display: hasY,
              autoSkip: false,
              color: "#000",
              font: TICK_FONT,
              padding: cfg.axisRight ? 0 : 21,
              crossAlign: cfg.axisRight ? "far" : "near",
              callback: (v: any) => String(v),
            },
          },
        },
      } as any,
    });
    return () => chart.destroy();
  }, []);

  return (
    <canvas
      ref={ref}
      width={width}
      height={height}
      style={{ position: "absolute", left, top, width, height }}
    />
  );
}

export default function App() {
  return (
    <div
      style={{
        position: "absolute",
        left: 0,
        top: 0,
        width: 869,
        height: 1428,
        overflow: "hidden",
        background: "#fff",
      }}
    >
      {PANELS.map((p) => (
        <Panel key={p.title} cfg={p} />
      ))}
      <div
        style={{
          position: "absolute",
          left: 25,
          top: 663,
          transform: "translate(-50%, -50%) rotate(-90deg) scale(1.45, 1)",
          font: "bold 26px 'Liberation Sans', Arial, sans-serif",
          lineHeight: "1",
          whiteSpace: "nowrap",
          color: "#000",
        }}
      >
        {Y_TITLE}
      </div>
      <div
        style={{
          position: "absolute",
          left: 452,
          top: 1410,
          transform: "translate(-50%, -50%) scaleX(1.25)",
          font: "bold 24px 'Liberation Sans', Arial, sans-serif",
          lineHeight: "1",
          whiteSpace: "nowrap",
          color: "#000",
        }}
      >
        {X_TITLE}
      </div>
    </div>
  );
}
